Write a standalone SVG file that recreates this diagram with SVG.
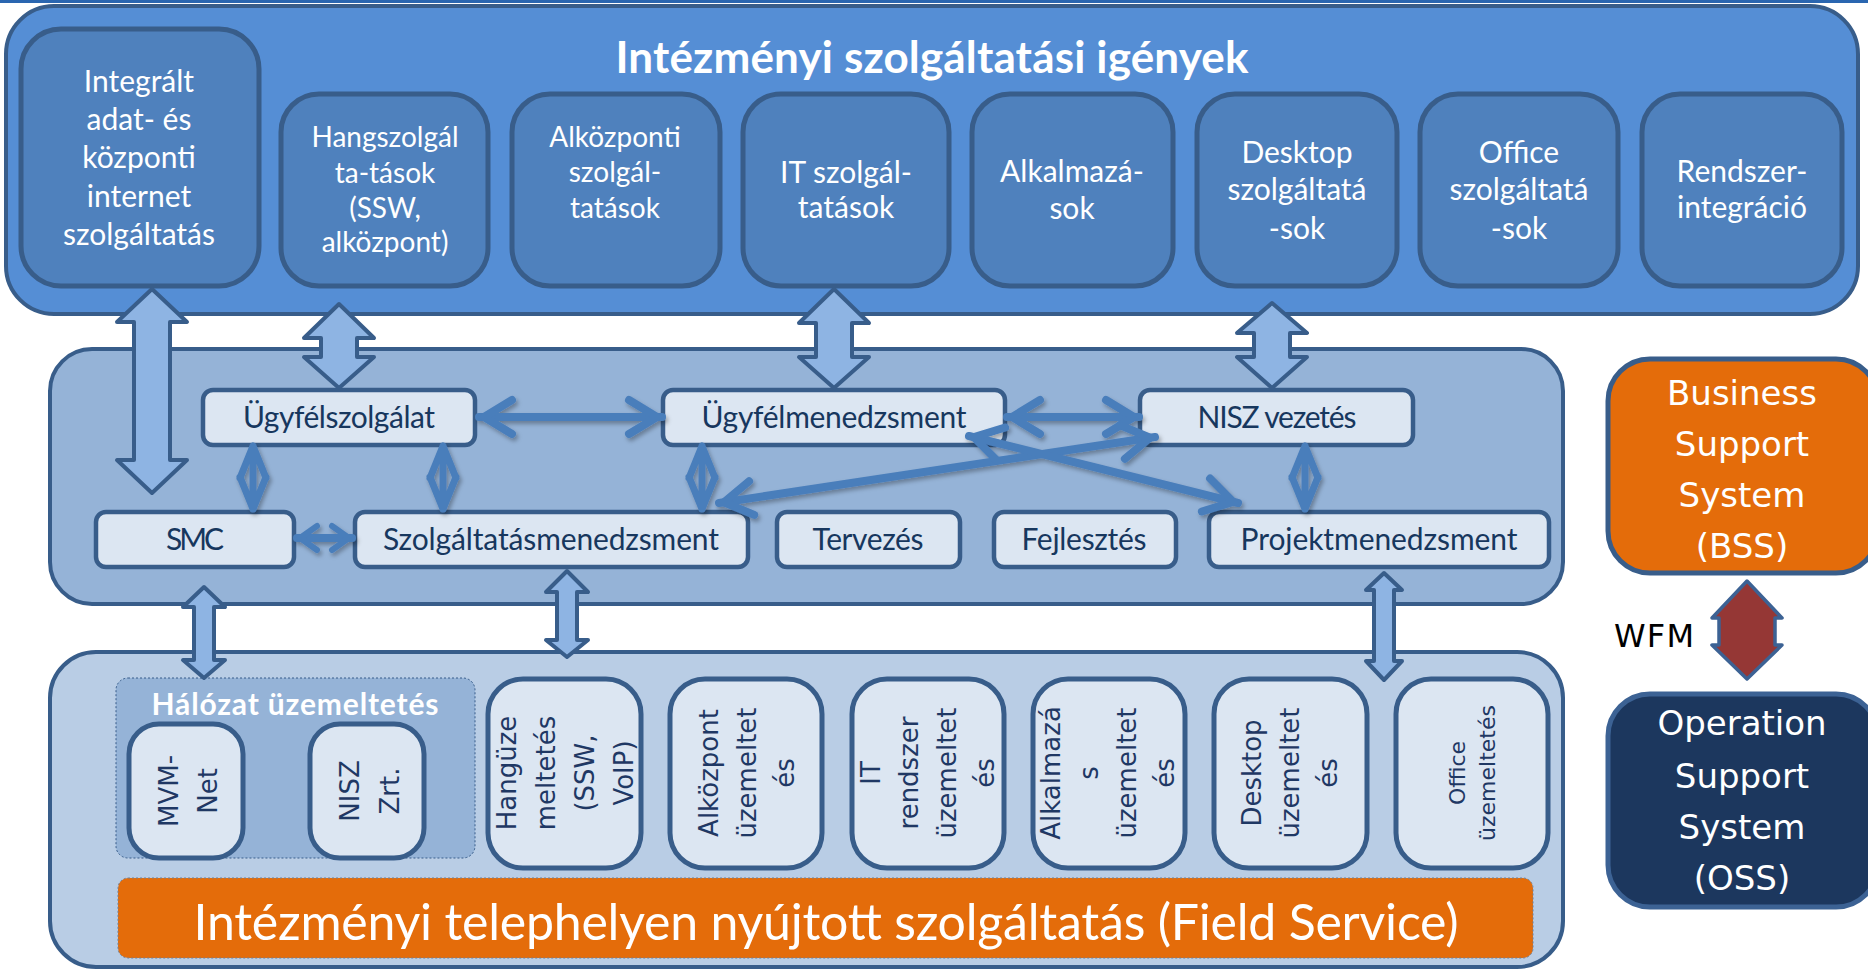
<svg xmlns="http://www.w3.org/2000/svg" width="1868" height="971" viewBox="0 0 1868 971">
<style>
.cont{stroke:#385d8a;stroke-width:4}
.top{fill:#558ed5}
.mid{fill:#95b3d7}
.bot{fill:#b9cde5}
.tbox{fill:#4f81bd;stroke:#385d8a;stroke-width:5}
.lbox{fill:#dce6f2;stroke:#385d8a;stroke-width:4.5}
.vbox{fill:#dce6f2;stroke:#385d8a;stroke-width:5}
.wt{font-family:Lato,"Liberation Sans",sans-serif;fill:#fff;text-anchor:middle;font-size:30px}
.wt2{font-family:Lato,"Liberation Sans",sans-serif;fill:#fff;text-anchor:middle;font-size:28px}
.lt{font-family:Lato,"Liberation Sans",sans-serif;fill:#17375e;text-anchor:middle;font-size:30px}
.vt{font-family:"DejaVu Sans",sans-serif;fill:#1f3864;text-anchor:middle;font-size:26px;dominant-baseline:central}
.st{font-family:"DejaVu Sans",sans-serif;fill:#fff;text-anchor:middle;font-size:34px}
.blk{fill:#8eb4e3;stroke:#385d8a;stroke-width:4;stroke-linejoin:round}
.ln{fill:none;stroke:#4a7ebb;stroke-width:8;stroke-linecap:round}
.ln2{fill:none;stroke:#4a7ebb;stroke-width:7;stroke-linecap:round;stroke-linejoin:round}
</style>
<defs>
<marker id="chev" markerUnits="userSpaceOnUse" viewBox="-45 -25 55 50" markerWidth="55" markerHeight="50" refX="0" refY="0" orient="auto-start-reverse">
<path d="M-33,-17 L-5,0 L-33,17" fill="none" stroke="#4a7ebb" stroke-width="8" stroke-linecap="round" stroke-linejoin="miter"/>
</marker>
<marker id="chevs" markerUnits="userSpaceOnUse" viewBox="-30 -20 40 40" markerWidth="40" markerHeight="40" refX="0" refY="0" orient="auto-start-reverse">
<path d="M-20,-12 L-3,0 L-20,12" fill="none" stroke="#4a7ebb" stroke-width="6" stroke-linecap="round"/>
</marker>
<filter id="sh" filterUnits="userSpaceOnUse" x="0" y="0" width="1868" height="971">
<feDropShadow dx="2" dy="3" stdDeviation="2" flood-color="#000" flood-opacity="0.3"/>
</filter>
</defs>
<rect width="1868" height="971" fill="#fff"/>
<rect x="0" y="0" width="1868" height="3" fill="#2a66b0"/>

<g id="top-container">
<rect class="cont top" x="6" y="6" width="1852" height="308" rx="48"/>
<text x="932" y="73" font-family="Lato,'Liberation Sans',sans-serif" font-weight="bold" font-size="44" fill="#fff" text-anchor="middle" textLength="633">Intézményi szolgáltatási igények</text>
</g>
<g id="middle-container"><rect class="cont mid" x="50" y="349" width="1513" height="255" rx="42"/></g>
<g id="bottom-container"><rect class="cont bot" x="50" y="652" width="1513" height="315" rx="46"/></g>

<g id="n-integralt"><rect class="tbox" x="21" y="29" width="238" height="257" rx="40"/>
<text class="wt"><tspan x="139" y="92">Integrált</tspan><tspan x="139" y="130">adat- és</tspan><tspan x="139" y="168">központi</tspan><tspan x="139" y="207">internet</tspan><tspan x="139" y="245">szolgáltatás</tspan></text></g>
<g id="n-hang"><rect class="tbox" x="281" y="94" width="207" height="192" rx="38"/>
<text class="wt2"><tspan x="385" y="147">Hangszolgál</tspan><tspan x="385" y="183">ta-tások</tspan><tspan x="385" y="218">(SSW,</tspan><tspan x="385" y="252">alközpont)</tspan></text></g>
<g id="n-alkozp"><rect class="tbox" x="512" y="94" width="208" height="192" rx="38"/>
<text class="wt2"><tspan x="615" y="147">Alközponti</tspan><tspan x="615" y="182">szolgál-</tspan><tspan x="615" y="218">tatások</tspan></text></g>
<g id="n-it"><rect class="tbox" x="743" y="94" width="206" height="192" rx="38"/>
<text class="wt"><tspan x="846" y="183">IT szolgál-</tspan><tspan x="846" y="218">tatások</tspan></text></g>
<g id="n-alk"><rect class="tbox" x="972" y="94" width="201" height="192" rx="38"/>
<text class="wt"><tspan x="1072" y="182">Alkalmazá-</tspan><tspan x="1072" y="219">sok</tspan></text></g>
<g id="n-desktop"><rect class="tbox" x="1197" y="94" width="200" height="192" rx="38"/>
<text class="wt"><tspan x="1297" y="163">Desktop</tspan><tspan x="1297" y="200">szolgáltatá</tspan><tspan x="1297" y="239">-sok</tspan></text></g>
<g id="n-office"><rect class="tbox" x="1420" y="94" width="198" height="192" rx="38"/>
<text class="wt"><tspan x="1519" y="163">Office</tspan><tspan x="1519" y="200">szolgáltatá</tspan><tspan x="1519" y="239">-sok</tspan></text></g>
<g id="n-rendszer"><rect class="tbox" x="1642" y="94" width="200" height="192" rx="38"/>
<text class="wt"><tspan x="1742" y="182">Rendszer-</tspan><tspan x="1742" y="218">integráció</tspan></text></g>

<g id="n-ugyfelszolgalat"><rect class="lbox" x="203" y="390" width="272" height="55" rx="10"/><text class="lt" x="339" y="428" textLength="192">Ügyfélszolgálat</text></g>
<g id="n-ugyfelmenedzsment"><rect class="lbox" x="663" y="390" width="342" height="55" rx="10"/><text class="lt" x="834" y="428" textLength="265">Ügyfélmenedzsment</text></g>
<g id="n-nisz-vezetes"><rect class="lbox" x="1140" y="390" width="273" height="55" rx="10"/><text class="lt" x="1277" y="428" textLength="159">NISZ vezetés</text></g>
<g id="n-smc"><rect class="lbox" x="96" y="512" width="198" height="55" rx="10"/><text class="lt" x="195" y="550" textLength="58">SMC</text></g>
<g id="n-szolg"><rect class="lbox" x="355" y="512" width="393" height="55" rx="10"/><text class="lt" x="551" y="550" textLength="336">Szolgáltatásmenedzsment</text></g>
<g id="n-tervezes"><rect class="lbox" x="777" y="512" width="183" height="55" rx="10"/><text class="lt" x="868" y="550" textLength="111">Tervezés</text></g>
<g id="n-fejlesztes"><rect class="lbox" x="994" y="512" width="182" height="55" rx="10"/><text class="lt" x="1084" y="550" textLength="125">Fejlesztés</text></g>
<g id="n-projekt"><rect class="lbox" x="1209" y="512" width="340" height="55" rx="10"/><text class="lt" x="1379" y="550" textLength="277">Projektmenedzsment</text></g>

<g id="n-halozat"><rect x="116" y="678" width="359" height="180" rx="12" fill="#95b3d7" stroke="#385d8a" stroke-width="1" stroke-dasharray="2,2"/>
<text x="295" y="715" font-family="Lato,'Liberation Sans',sans-serif" font-weight="bold" font-size="30" fill="#fff" text-anchor="middle" textLength="287">Hálózat üzemeltetés</text></g>
<g id="n-mvm"><rect class="vbox" x="129" y="724" width="114" height="134" rx="30"/>
<text class="vt" transform="translate(169,791) rotate(-90)">MVM-</text><text class="vt" transform="translate(208,791) rotate(-90)">Net</text></g>
<g id="n-nisz-zrt"><rect class="vbox" x="310" y="724" width="114" height="134" rx="30"/>
<text class="vt" transform="translate(350,791) rotate(-90)">NISZ</text><text class="vt" transform="translate(390,791) rotate(-90)">Zrt.</text></g>

<g id="n-hangu"><rect class="vbox" x="488" y="679" width="153" height="189" rx="35"/>
<text class="vt" transform="translate(507,773) rotate(-90)">Hangüze</text><text class="vt" transform="translate(546,773) rotate(-90)">meltetés</text><text class="vt" transform="translate(585,773) rotate(-90)">(SSW,</text><text class="vt" transform="translate(624,773) rotate(-90)">VoIP)</text></g>
<g id="n-alkozpu"><rect class="vbox" x="670" y="679" width="152" height="189" rx="35"/>
<text class="vt" transform="translate(709,773) rotate(-90)">Alközpont</text><text class="vt" transform="translate(747,773) rotate(-90)">üzemeltet</text><text class="vt" transform="translate(785,773) rotate(-90)">és</text></g>
<g id="n-itu"><rect class="vbox" x="852" y="679" width="152" height="189" rx="35"/>
<text class="vt" transform="translate(871,773) rotate(-90)">IT</text><text class="vt" transform="translate(909,773) rotate(-90)">rendszer</text><text class="vt" transform="translate(947,773) rotate(-90)">üzemeltet</text><text class="vt" transform="translate(985,773) rotate(-90)">és</text></g>
<g id="n-alku"><rect class="vbox" x="1033" y="679" width="152" height="189" rx="35"/>
<text class="vt" transform="translate(1051,773) rotate(-90)">Alkalmazá</text><text class="vt" transform="translate(1089,773) rotate(-90)">s</text><text class="vt" transform="translate(1127,773) rotate(-90)">üzemeltet</text><text class="vt" transform="translate(1165,773) rotate(-90)">és</text></g>
<g id="n-desktopu"><rect class="vbox" x="1214" y="679" width="153" height="189" rx="35"/>
<text class="vt" transform="translate(1252,773) rotate(-90)">Desktop</text><text class="vt" transform="translate(1290,773) rotate(-90)">üzemeltet</text><text class="vt" transform="translate(1328,773) rotate(-90)">és</text></g>
<g id="n-officeu"><rect class="vbox" x="1396" y="679" width="152" height="189" rx="35"/>
<text class="vt" font-size="22" style="font-size:22px" transform="translate(1457,773) rotate(-90)">Office</text><text class="vt" style="font-size:22px" transform="translate(1487,773) rotate(-90)">üzemeltetés</text></g>

<g id="n-field"><rect x="118" y="878" width="1415" height="80" rx="10" fill="#e46c0a" stroke="#6f7f95" stroke-width="1" stroke-dasharray="2,2"/>
<text x="826" y="940" font-family="Lato,'Liberation Sans',sans-serif" font-size="50" fill="#fff" text-anchor="middle" textLength="1265">Intézményi telephelyen nyújtott szolgáltatás (Field Service)</text></g>

<g id="n-bss"><rect x="1608" y="359" width="270" height="214" rx="42" fill="#e46c0a" stroke="#385d8a" stroke-width="5"/>
<text class="st"><tspan x="1742" y="405">Business</tspan><tspan x="1742" y="456">Support</tspan><tspan x="1742" y="507">System</tspan><tspan x="1742" y="558">(BSS)</tspan></text></g>
<g id="n-oss"><rect x="1608" y="694" width="270" height="213" rx="42" fill="#1c375e" stroke="#3c6294" stroke-width="5"/>
<text class="st"><tspan x="1742" y="735">Operation</tspan><tspan x="1742" y="788">Support</tspan><tspan x="1742" y="839">System</tspan><tspan x="1742" y="890">(OSS)</tspan></text></g>

<g id="connectors">
<polygon class="blk" points="152,289 187,322 170,322 170,460 187,460 152,493 117,460 134,460 134,322 117,322"/>
<polygon class="blk" points="339,304 374,338 357,338 357,357 374,357 339,388 304,357 321,357 321,338 304,338"/>
<polygon class="blk" points="834,289 869,323 852,323 852,357 869,357 834,388 799,357 816,357 816,323 799,323"/>
<polygon class="blk" points="1272,303 1307,333 1290,333 1290,357 1307,357 1272,388 1237,357 1254,357 1254,333 1237,333"/>
<polygon class="blk" points="204,587 225,607 214,607 214,660 225,660 204,678 183,660 194,660 194,607 183,607"/>
<polygon class="blk" points="567,571 588,592 577,592 577,640 588,640 567,657 546,640 557,640 557,592 546,592"/>
<polygon class="blk" points="1384,573 1402,590 1394,590 1394,661 1402,661 1384,680 1366,661 1374,661 1374,590 1366,590"/>
<polygon points="1747,581 1782,618 1775,618 1775,645 1782,645 1747,679 1712,645 1719,645 1719,618 1712,618" fill="#953735" stroke="#3c6294" stroke-width="3.5" stroke-linejoin="round"/>
<g filter="url(#sh)">
<line class="ln" x1="479" y1="417" x2="662" y2="417" marker-start="url(#chev)" marker-end="url(#chev)"/>
<line class="ln" x1="1007" y1="417" x2="1139" y2="417" marker-start="url(#chev)" marker-end="url(#chev)"/>
<line class="ln" x1="719" y1="503" x2="1155" y2="437" marker-start="url(#chev)" marker-end="url(#chev)"/>
<line class="ln" x1="969" y1="436" x2="1238" y2="503" marker-start="url(#chev)" marker-end="url(#chev)"/>
<line class="ln" x1="297" y1="538" x2="352" y2="538" stroke-width="6" marker-start="url(#chevs)" marker-end="url(#chevs)"/>
<path class="ln2" d="M253,446 V509 M240,478 L253,446 L266,478 M240,477 L253,509 L266,477"/>
<path class="ln2" d="M443,446 V509 M430,478 L443,446 L456,478 M430,477 L443,509 L456,477"/>
<path class="ln2" d="M702,446 V509 M689,478 L702,446 L715,478 M689,477 L702,509 L715,477"/>
<path class="ln2" d="M1305,446 V509 M1292,478 L1305,446 L1318,478 M1292,477 L1305,509 L1318,477"/>
</g>
</g>
<text x="1614" y="647" font-family="'DejaVu Sans',sans-serif" font-size="32" fill="#000" textLength="80">WFM</text>
</svg>
